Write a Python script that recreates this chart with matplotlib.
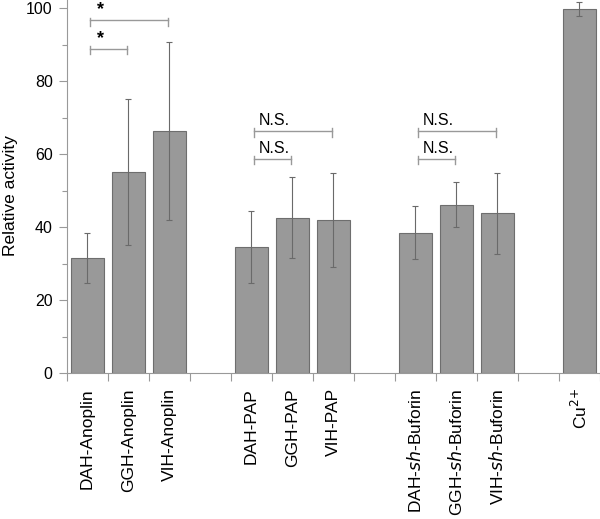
import numpy as np
import matplotlib
matplotlib.use('Agg')
import matplotlib.pyplot as plt

plt.rcParams['font.family'] = ['Liberation Sans', 'DejaVu Sans']

# dati
labels = ['DAH-Anoplin', 'GGH-Anoplin', 'VIH-Anoplin',
          'DAH-PAP', 'GGH-PAP', 'VIH-PAP',
          'DAH-$sh$-Buforin', 'GGH-$sh$-Buforin', 'VIH-$sh$-Buforin',
          'Cu$^{2{+}}$']
slots = [0, 1, 2, 4, 5, 6, 8, 9, 10, 12]
values = [31.5, 55.1, 66.2, 34.6, 42.6, 41.9, 38.4, 46.1, 43.8, 99.8]
errors = [6.8, 20.1, 24.4, 9.9, 11.0, 12.9, 7.3, 6.2, 11.1, 1.9]

# brackets: (slot a, slot b, y, testo)
brackets = [(0, 2, 96.6, '*'), (0, 1, 88.8, '*'),
            (4, 6, 66.2, 'N.S.'), (4, 5, 58.6, 'N.S.'),
            (8, 10, 66.2, 'N.S.'), (8, 9, 58.6, 'N.S.')]

fig = plt.figure(figsize=(6.0, 5.19), dpi=100)
ax = fig.add_axes([0.111, 0.2813, 0.889, 0.7187])

ax.bar(slots, values, width=0.8, color='#999999', edgecolor='#6e6e6e', linewidth=0.8)
ax.errorbar(slots, values, yerr=errors, fmt='none', ecolor='#6a6a6a',
            elinewidth=0.8, capsize=2.2, capthick=0.8)

for a, b, yb, txt in brackets:
    xa = a + 0.06
    xb = b - 0.04
    ax.plot([xa, xb], [yb, yb], color='#999999', lw=1)
    ax.plot([xa, xa], [yb - 1.4, yb + 0.8], color='#999999', lw=1)
    ax.plot([xb, xb], [yb - 1.4, yb + 0.8], color='#999999', lw=1)
    if txt == '*':
        ax.text(xa + 0.27, yb + 0.6, txt, ha='center', va='bottom', fontsize=13, fontweight='bold')
    else:
        ax.text(xa + 0.12, yb + 0.9, txt, ha='left', va='bottom', fontsize=11.5)

ax.set_xlim(-0.5, 12.5)
ax.set_ylim(0, 102.2)

ax.set_xticks(np.arange(-0.5, 13, 1.0))
ax.set_xticklabels([])
ax.set_xticks(slots, minor=True)
ax.set_xticklabels(labels, minor=True, rotation=90, fontsize=12.5)
ax.tick_params(axis='x', which='major', length=6, width=0.8, color='#999999')
ax.tick_params(axis='x', which='minor', length=0, pad=11)

ax.set_yticks(np.arange(0, 101, 20))
ax.set_yticks(np.arange(10, 100, 20), minor=True)
ax.tick_params(axis='y', which='major', length=6, width=0.8, color='#999999', labelsize=11.5, pad=4)
ax.tick_params(axis='y', which='minor', length=3.5, width=0.8, color='#999999')

for s in ['top', 'right']:
    ax.spines[s].set_visible(False)
for s in ['left', 'bottom']:
    ax.spines[s].set_color('#999999')
    ax.spines[s].set_linewidth(0.8)

fig.text(0.017, 1 - 196 / 519, 'Relative activity', rotation=90, ha='center', va='center', fontsize=12.5)

fig.savefig('out.png', dpi=100)
